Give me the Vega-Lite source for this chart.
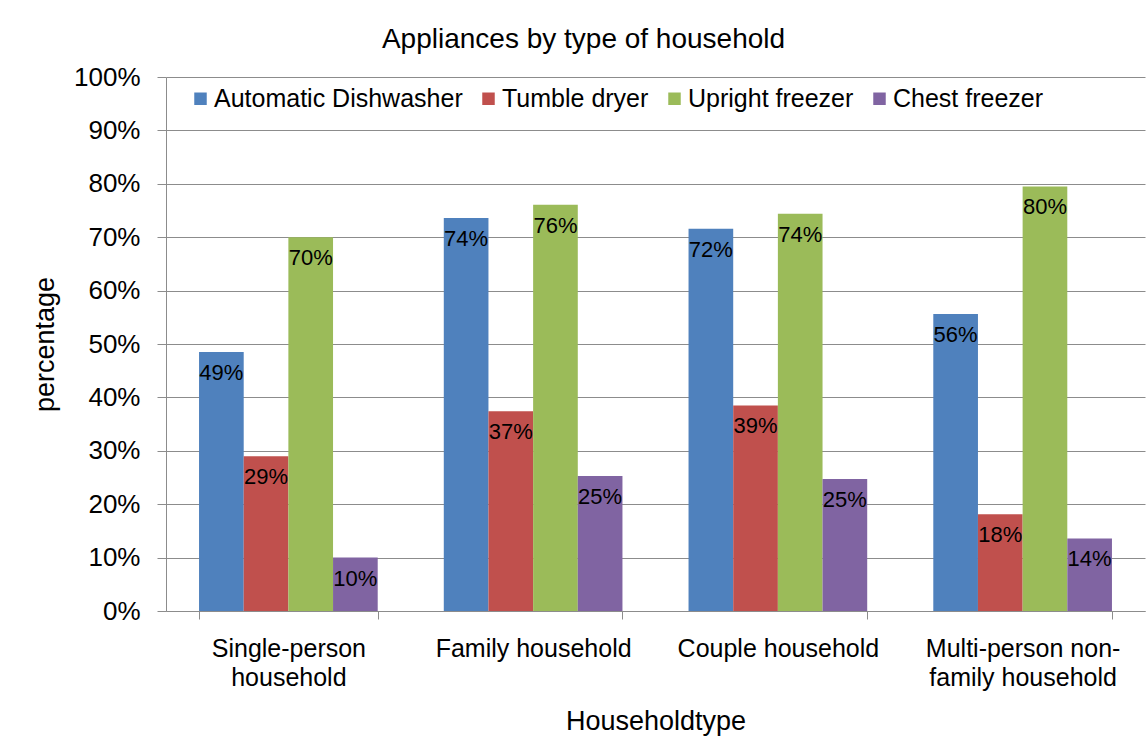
{
  "$schema": "https://vega.github.io/schema/vega-lite/v6.json",
  "autosize": {"type": "none"},
  "padding": {"left": 166, "top": 77, "right": 2, "bottom": 138},
  "width": 979,
  "height": 534,
  "background": "white",
  "title": {
    "text": "Appliances by type of household",
    "font": "Liberation Sans",
    "fontSize": 28,
    "fontWeight": "normal",
    "color": "black",
    "anchor": "middle",
    "baseline": "alphabetic",
    "dx": -72,
    "offset": -12
  },
  "config": {
    "font": "Liberation Sans",
    "view": {"stroke": null},
    "axis": {
      "domainColor": "#8c8c8c",
      "gridColor": "#8c8c8c",
      "tickColor": "#8c8c8c",
      "labelColor": "black",
      "titleColor": "black",
      "labelFont": "Liberation Sans",
      "titleFont": "Liberation Sans",
      "titleFontWeight": "normal"
    }
  },
  "data": {
    "values": [
      {"Householdtype": "Single-person household", "appliance": "Automatic Dishwasher", "percentage": 0.485},
      {"Householdtype": "Single-person household", "appliance": "Tumble dryer", "percentage": 0.290},
      {"Householdtype": "Single-person household", "appliance": "Upright freezer", "percentage": 0.700},
      {"Householdtype": "Single-person household", "appliance": "Chest freezer", "percentage": 0.100},
      {"Householdtype": "Family household", "appliance": "Automatic Dishwasher", "percentage": 0.736},
      {"Householdtype": "Family household", "appliance": "Tumble dryer", "percentage": 0.374},
      {"Householdtype": "Family household", "appliance": "Upright freezer", "percentage": 0.761},
      {"Householdtype": "Family household", "appliance": "Chest freezer", "percentage": 0.253},
      {"Householdtype": "Couple household", "appliance": "Automatic Dishwasher", "percentage": 0.716},
      {"Householdtype": "Couple household", "appliance": "Tumble dryer", "percentage": 0.385},
      {"Householdtype": "Couple household", "appliance": "Upright freezer", "percentage": 0.744},
      {"Householdtype": "Couple household", "appliance": "Chest freezer", "percentage": 0.247},
      {"Householdtype": "Multi-person non-family household", "appliance": "Automatic Dishwasher", "percentage": 0.556},
      {"Householdtype": "Multi-person non-family household", "appliance": "Tumble dryer", "percentage": 0.181},
      {"Householdtype": "Multi-person non-family household", "appliance": "Upright freezer", "percentage": 0.795},
      {"Householdtype": "Multi-person non-family household", "appliance": "Chest freezer", "percentage": 0.136}
    ]
  },
  "encoding": {
    "x": {
      "field": "Householdtype",
      "type": "nominal",
      "sort": ["Single-person household", "Family household", "Couple household", "Multi-person non-family household"],
      "scale": {"paddingInner": 0.27, "paddingOuter": 0.135},
      "axis": {
        "title": "Householdtype",
        "titleFontSize": 27,
        "titlePadding": 18,
        "labelFontSize": 25,
        "labelAngle": 0,
        "labelPadding": 17,
        "labelLineHeight": 29,
        "labelBaseline": "top",
        "labelLimit": 400,
        "tickBand": "extent",
        "tickSize": 8,
        "grid": false,
        "labelExpr": "datum.value == 'Single-person household' ? ['Single-person', 'household'] : datum.value == 'Multi-person non-family household' ? ['Multi-person non-', 'family household'] : datum.value"
      }
    },
    "xOffset": {
      "field": "appliance",
      "type": "nominal",
      "sort": ["Automatic Dishwasher", "Tumble dryer", "Upright freezer", "Chest freezer"]
    },
    "y": {
      "field": "percentage",
      "type": "quantitative",
      "scale": {"domain": [0, 1], "nice": false},
      "axis": {
        "title": "percentage",
        "titleFontSize": 27,
        "titlePadding": 14,
        "labelFontSize": 26,
        "labelPadding": 17,
        "tickSize": 9,
        "format": ".0%",
        "values": [0, 0.1, 0.2, 0.3, 0.4, 0.5, 0.6, 0.7, 0.8, 0.9, 1.0],
        "grid": true
      }
    }
  },
  "layer": [
    {
      "mark": {"type": "bar"},
      "encoding": {
        "color": {
          "field": "appliance",
          "type": "nominal",
          "scale": {
            "domain": ["Automatic Dishwasher", "Tumble dryer", "Upright freezer", "Chest freezer"],
            "range": ["#4F81BD", "#C0504D", "#9BBB59", "#8064A2"]
          },
          "legend": {
            "title": null,
            "orient": "none",
            "direction": "horizontal",
            "legendX": 22,
            "legendY": 9,
            "padding": 0,
            "symbolType": "square",
            "symbolSize": 156,
            "symbolStrokeWidth": 0,
            "symbolOpacity": 1,
            "labelFontSize": 25,
            "labelFont": "Liberation Sans",
            "labelColor": "black",
            "labelOffset": 1,
            "columnPadding": 13,
            "labelLimit": 400
          }
        }
      }
    },
    {
      "mark": {"type": "text", "baseline": "middle", "dy": 21, "fontSize": 22, "color": "black", "font": "Liberation Sans"},
      "encoding": {
        "text": {"field": "percentage", "type": "quantitative", "format": ".0%"}
      }
    }
  ]
}
